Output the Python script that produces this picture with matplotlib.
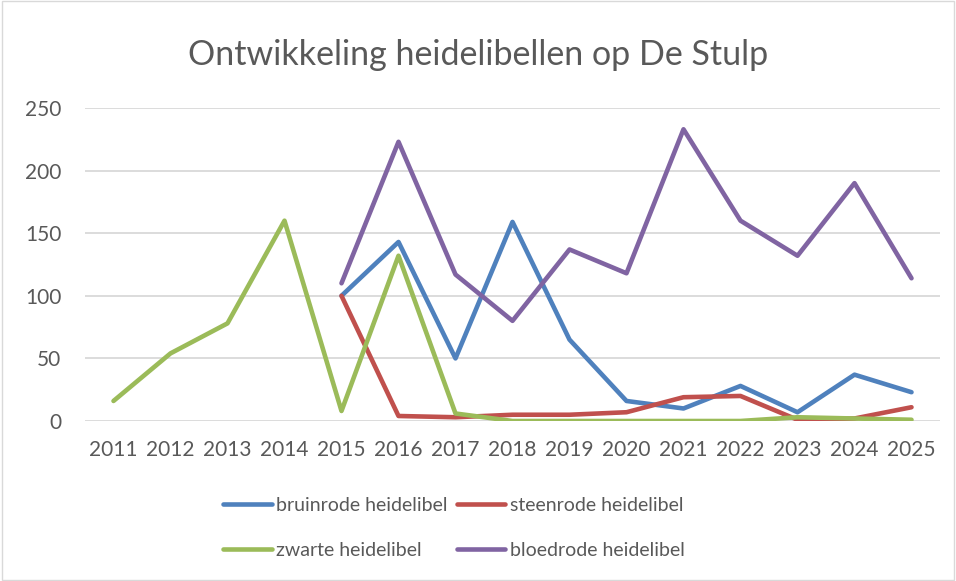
import numpy as np
import matplotlib
matplotlib.use('agg')
import matplotlib.pyplot as plt
from matplotlib.patches import Rectangle

plt.rcParams['font.family'] = ['Lato', 'DejaVu Sans']

years = list(range(2011, 2026))
jaren_2015 = list(range(2015, 2026))
bruinrode = [100, 143, 50, 159, 65, 16, 10, 28, 7, 37, 23]
steenrode = [100, 4, 3, 5, 5, 7, 19, 20, 1, 2, 11]
zwarte = [16, 54, 78, 160, 8, 132, 6, 0, 0, 0, 0, 0, 3, 2, 1]
bloedrode = [110, 223, 117, 80, 137, 118, 233, 160, 132, 190, 114]

grey = '#595959'
fig = plt.figure(figsize=(9.56, 5.81), dpi=100)
ax = fig.add_axes([85/956, 1-421/581, (940-85)/956, (421-108)/581])

lw = 3.3
kw = dict(lw=lw, solid_capstyle='round', solid_joinstyle='round')
l1, = ax.plot(jaren_2015, bruinrode, color='#4F81BD', label='bruinrode heidelibel', **kw)
l2, = ax.plot(jaren_2015, steenrode, color='#C0504D', label='steenrode heidelibel', **kw)
l3, = ax.plot(years, zwarte, color='#9BBB59', label='zwarte heidelibel', **kw)
l4, = ax.plot(jaren_2015, bloedrode, color='#8064A2', label='bloedrode heidelibel', **kw)

ax.set_xlim(2010.5, 2025.5)
ax.set_ylim(0, 250)
ax.set_yticks(range(0, 251, 50))
ax.set_xticks(years)
ax.grid(axis='y', color='#D9D9D9', lw=1.3)
ax.set_axisbelow(True)
for s in ax.spines.values():
    s.set_visible(False)
ax.tick_params(length=0, labelsize=15, colors=grey)
ax.tick_params(axis='x', pad=14)
ax.tick_params(axis='y', pad=17)

fig.text(0.5, 1-55/581, 'Ontwikkeling heidelibellen op De Stulp', ha='center', va='center',
         fontsize=24.5, color=grey)

# matplotlib fills legend columns first, so order handles for row-wise layout
handles = [l1, l3, l2, l4]
leg = fig.legend(handles, [h.get_label() for h in handles], loc='center',
                 bbox_to_anchor=(454/956, 1-528/581), ncol=2, frameon=False,
                 fontsize=14, handlelength=2.5, handletextpad=0.25, columnspacing=0.45,
                 labelspacing=1.45, labelcolor=grey)

fig.patches.append(Rectangle((0.002, 0.002), 0.996, 0.996, transform=fig.transFigure,
                             fill=False, edgecolor='#D9D9D9', lw=1))

fig.savefig('out.png', dpi=100)
